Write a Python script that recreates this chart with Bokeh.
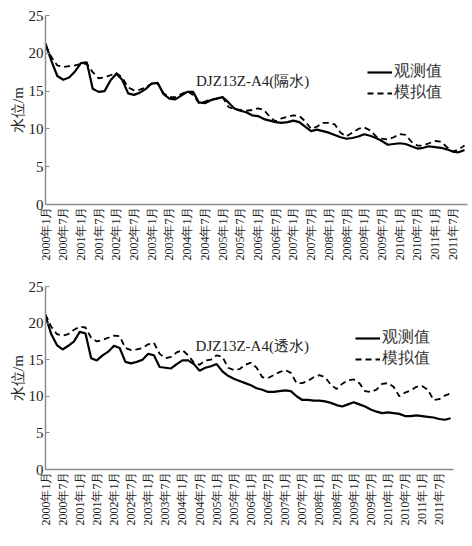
import math
from bokeh.plotting import figure
from bokeh.layouts import column
from bokeh.models import FixedTicker, Legend, LegendItem, Label, Range1d
from bokeh.embed import file_html
from bokeh.resources import INLINE

# month index from 2000-01 (0) ; sampled every two months
months = list(range(0, 144, 2))

tick_months = list(range(0, 144, 6))
tick_labels = [f"{2000 + m // 12}年{m % 12 + 1}月" for m in tick_months]

obs_top = [21.3, 19.0, 17.0, 16.5, 16.8, 17.6, 18.7, 18.8, 15.3, 14.9,
           15.0, 16.4, 17.3, 16.5, 14.7, 14.5, 14.8, 15.3, 16.0, 16.1,
           14.6, 14.0, 13.9, 14.4, 14.9, 14.9, 13.5, 13.4, 13.8, 14.0,
           14.2, 13.5, 12.7, 12.4, 12.2, 11.8, 11.7, 11.3, 11.1, 10.9,
           10.8, 10.9, 11.1, 10.9, 10.3, 9.7, 9.9, 9.7, 9.5, 9.2,
           8.9, 8.7, 8.8, 9.0, 9.3, 9.1, 8.8, 8.4, 7.9, 8.0,
           8.1, 8.0, 7.7, 7.4, 7.5, 7.7, 7.6, 7.5, 7.3, 7.0,
           6.9, 7.2]

sim_top = [21.0, 19.5, 18.4, 18.2, 18.3, 18.4, 18.6, 18.6, 17.5, 16.7,
           16.8, 17.1, 17.4, 16.8, 15.5, 15.1, 15.2, 15.5, 16.0, 16.0,
           14.7, 14.2, 14.2, 14.6, 15.0, 14.5, 13.4, 13.6, 13.9, 14.0,
           14.2, 12.9, 12.6, 12.5, 12.4, 12.5, 12.7, 12.5, 11.6, 11.0,
           11.4, 11.6, 11.8, 11.7, 11.0, 10.0, 10.3, 10.8, 10.8, 10.6,
           9.5, 9.0, 9.5, 10.0, 10.2, 9.8, 9.0, 8.7, 8.6, 8.9,
           9.3, 9.2, 8.3, 7.8, 7.8, 8.1, 8.4, 8.3, 7.6, 7.0,
           7.3, 7.8]

obs_bot = [21.0, 18.5, 17.0, 16.4, 16.9, 17.5, 18.8, 18.6, 15.2, 14.9,
           15.6, 16.1, 16.9, 16.6, 14.7, 14.5, 14.7, 15.0, 15.8, 15.6,
           14.0, 13.9, 13.8, 14.4, 14.9, 14.9, 14.4, 13.5, 13.9, 14.1,
           14.4, 13.4, 12.8, 12.4, 12.1, 11.8, 11.5, 11.1, 10.9, 10.6,
           10.6, 10.7, 10.8, 10.7, 10.0, 9.5, 9.5, 9.4, 9.4, 9.3,
           9.1, 8.8, 8.6, 8.9, 9.2, 8.9, 8.6, 8.2, 7.9, 7.7,
           7.8, 7.7, 7.6, 7.3, 7.3, 7.4, 7.3, 7.2, 7.1, 6.9,
           6.8, 7.0]

sim_bot = [21.2, 19.5, 18.5, 18.3, 18.5, 19.1, 19.5, 19.4, 18.0, 17.5,
           17.7, 18.0, 18.3, 18.2, 16.6, 16.3, 16.4, 16.6, 17.1, 17.3,
           15.8, 15.2, 15.4, 16.0, 16.3, 15.6, 14.6, 14.3, 14.9, 15.0,
           15.6, 15.4, 13.9, 13.6, 13.7, 14.3, 14.6, 13.9, 12.6, 12.5,
           12.9, 13.3, 13.6, 13.2, 11.8, 11.8, 12.1, 12.6, 12.9, 12.6,
           11.6, 11.0, 11.7, 12.2, 12.3, 11.8, 10.7, 10.6, 10.9, 11.7,
           11.8, 11.3, 10.0, 10.5, 10.8, 11.3, 11.4, 10.9, 9.5, 9.6,
           10.1, 10.4]

series_names = ["观测值", "模拟值"]
titles = ["DJZ13Z-A4(隔水)", "DJZ13Z-A4(透水)"]
y_ticks = [0, 5, 10, 15, 20, 25]

FONT = "Liberation Serif, Times New Roman, serif"
AXIS_COLOR = "#8c8c8c"


def panel(obs, sim, title, width, height, b_top, b_bottom, legend_loc, title_pos):
    p = figure(width=width, height=height, x_range=Range1d(0, 143), y_range=Range1d(0, 25),
               output_backend="svg", toolbar_location=None,
               min_border_left=45, min_border_right=5,
               min_border_top=b_top, min_border_bottom=b_bottom)
    p.outline_line_color = None
    p.grid.visible = False
    p.background_fill_color = "white"
    p.border_fill_color = "white"

    r1 = p.line(months, obs, line_color="black", line_width=2.2)
    r2 = p.line(months, sim, line_color="black", line_width=1.8, line_dash="6 4")

    xa = p.xaxis[0]
    xa.ticker = FixedTicker(ticks=tick_months)
    xa.major_label_overrides = {m: t for m, t in zip(tick_months, tick_labels)}
    xa.major_label_orientation = math.pi / 2
    xa.major_tick_in = 0
    xa.major_tick_out = 0
    xa.minor_tick_in = 0
    xa.minor_tick_out = 0
    xa.major_label_standoff = 2
    xa.major_label_text_font = FONT
    xa.major_label_text_font_size = "12px"
    xa.major_label_text_color = "#222222"
    xa.axis_line_color = AXIS_COLOR
    xa.axis_line_width = 1.5

    ya = p.yaxis[0]
    ya.ticker = FixedTicker(ticks=y_ticks)
    ya.major_tick_in = 4
    ya.major_tick_out = 0
    ya.minor_tick_in = 0
    ya.minor_tick_out = 0
    ya.major_tick_line_color = AXIS_COLOR
    ya.major_label_standoff = 2
    ya.major_label_text_font = FONT
    ya.major_label_text_font_size = "15px"
    ya.major_label_text_color = "#222222"
    ya.axis_line_color = AXIS_COLOR
    ya.axis_line_width = 1.5
    ya.axis_label = "水位/m"
    ya.axis_label_standoff = 0
    ya.axis_label_text_font = FONT
    ya.axis_label_text_font_size = "15px"
    ya.axis_label_text_font_style = "normal"
    ya.axis_label_text_color = "#222222"

    p.add_layout(Label(x=title_pos[0], y=title_pos[1], text=title, text_font=FONT,
                       text_font_size="15px", text_baseline="middle", text_color="#222222"))

    legend = Legend(items=[LegendItem(label=series_names[0], renderers=[r1]),
                           LegendItem(label=series_names[1], renderers=[r2])],
                    location=legend_loc, padding=0, margin=0, spacing=0,
                    label_standoff=2, glyph_width=25, glyph_height=18, label_height=18,
                    label_text_line_height=1.0,
                    label_text_font=FONT, label_text_font_size="16px",
                    label_text_color="#333333", border_line_color=None,
                    background_fill_alpha=0)
    p.add_layout(legend)
    return p


p1 = panel(obs_top, sim_top, titles[0], 472, 270, 15, 66, (322, 101), (51, 16.4))
p2 = panel(obs_bot, sim_bot, titles[1], 458, 268, 16, 69, (310, 100), (52.6, 16.9))

layout = column(p1, p2, spacing=0)
open("out.html", "w").write(file_html(layout, INLINE))
